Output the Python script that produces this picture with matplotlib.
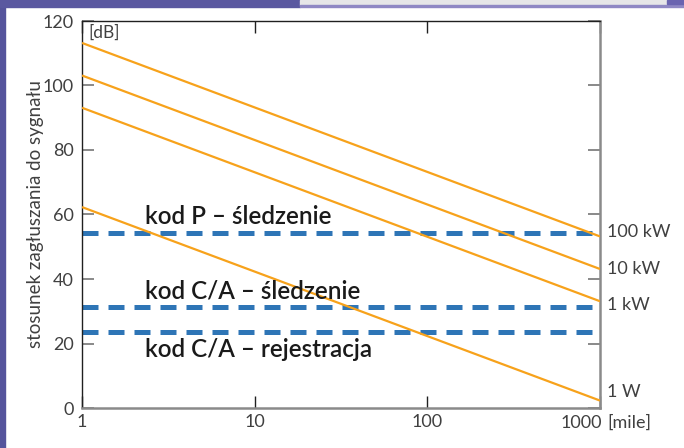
import matplotlib
matplotlib.use("Agg")
import matplotlib.pyplot as plt
from matplotlib.patches import Rectangle
import matplotlib.ticker as mticker

# distance range [mile]
dist = [1, 1000]

# interference-to-signal ratio [dB] at 1 and 1000 miles, per transmitter power
power_labels = ["100 kW", "10 kW", "1 kW", "1 W"]
ratio_start = [113.2, 103.1, 93.1, 62.3]
ratio_end = [53.2, 43.1, 33.1, 2.3]
power_label_y = [54.6, 43.0, 32.0, 5.0]

# receiver thresholds [dB]
thr_labels = ["kod P \u2013 \u015bledzenie", "kod C/A \u2013 \u015bledzenie", "kod C/A \u2013 rejestracja"]
thr_values = [54.2, 31.2, 23.7]
thr_text_y = [57.2, 34.0, 15.8]

yticks = [0, 20, 40, 60, 80, 100, 120]
xticks = [1, 10, 100, 1000]
xticklabels = ["1", "10", "100", "1000"]

ORANGE = "#f7a21b"
BLUE = "#2e75b6"
GREY_TXT = "#404040"
FONT = dict(family="Lato", weight="normal")

fig = plt.figure(figsize=(6.84, 4.48), dpi=100)
fig.patch.set_facecolor("white")

# page decoration: purple strip on the left and top, grey bar top right
fig.add_artist(Rectangle((0, 0), 4.5 / 684, 1, transform=fig.transFigure, color="#55549c", zorder=0))
fig.add_artist(Rectangle((0, 1 - 7 / 448), 300 / 684, 7 / 448, transform=fig.transFigure, color="#5a58a0", zorder=0))
fig.add_artist(Rectangle((300 / 684, 1 - 5 / 448), 384 / 684, 5 / 448, transform=fig.transFigure, color="#e6e6e8", zorder=0))
fig.add_artist(Rectangle((300 / 684, 1 - 7 / 448), 384 / 684, 2 / 448, transform=fig.transFigure, color="#8f88c4", zorder=0))
fig.add_artist(Rectangle((667 / 684, 1 - 4 / 448), 17 / 684, 4 / 448, transform=fig.transFigure, color="#6a64b0", zorder=0))

ax = fig.add_axes([82 / 684, 40 / 448, 518 / 684, 387 / 448])
ax.set_xscale("log")
ax.set_xlim(1, 1000)
ax.set_ylim(0, 120)

for s, e in zip(ratio_start, ratio_end):
    ax.plot(dist, [s, e], color=ORANGE, lw=1.6, solid_capstyle="butt", zorder=3)

for v in thr_values:
    ax.plot(dist, [v, v], color=BLUE, lw=3.6, dashes=(3.2, 2.0), dash_capstyle="butt", zorder=2)

for lab, ty in zip(thr_labels, thr_text_y):
    ax.text(2.32, ty, lab, fontsize=17.5, family="Lato", weight="semibold", color="#1a1a1a",
            va="baseline", ha="left")

for lab, ly in zip(power_labels, power_label_y):
    ax.annotate(lab, xy=(1000, ly), xytext=(5, 0), textcoords="offset points",
                va="center", ha="left", fontsize=13, color=GREY_TXT, annotation_clip=False, **FONT)

ax.text(0.012, 0.99, "[dB]", transform=ax.transAxes, fontsize=12.5, color=GREY_TXT, va="top", ha="left", **FONT)

ax.set_yticks(yticks)
ax.set_yticklabels([str(t) for t in yticks], **FONT)
ax.set_xticks(xticks)
ax.set_xticklabels(xticklabels[:-1] + [""], **FONT)
ax.xaxis.set_minor_locator(mticker.NullLocator())

# last x label sits left of the corner, followed by the unit
ax.annotate(xticklabels[-1], xy=(1000, 0), xytext=(1.5, -10.5), textcoords="offset points",
            va="center", ha="right", fontsize=13, color=GREY_TXT, annotation_clip=False, **FONT)
ax.annotate("[mile]", xy=(1000, 0), xytext=(5, -10.5), textcoords="offset points",
            va="center", ha="left", fontsize=13, color=GREY_TXT, annotation_clip=False, **FONT)

ax.tick_params(axis="y", direction="in", length=8.5, width=1.3, color="#808080",
               labelsize=13, labelcolor=GREY_TXT, pad=6, right=True)
ax.tick_params(axis="x", direction="in", length=8.5, width=1.0, color="#202020",
               labelsize=13, labelcolor=GREY_TXT, pad=4, top=True)

ax.set_ylabel("stosunek zag\u0142uszania do sygna\u0142u", fontsize=13.5, color=GREY_TXT, labelpad=-1, **FONT)

ax.spines["left"].set_color("#202020")
ax.spines["left"].set_linewidth(1.0)
ax.spines["top"].set_color("#202020")
ax.spines["top"].set_linewidth(1.0)
ax.spines["right"].set_color("#8a8a8a")
ax.spines["right"].set_linewidth(1.8)
ax.spines["bottom"].set_color("#8a8a8a")
ax.spines["bottom"].set_linewidth(1.8)

fig.savefig("out.png", dpi=100)
